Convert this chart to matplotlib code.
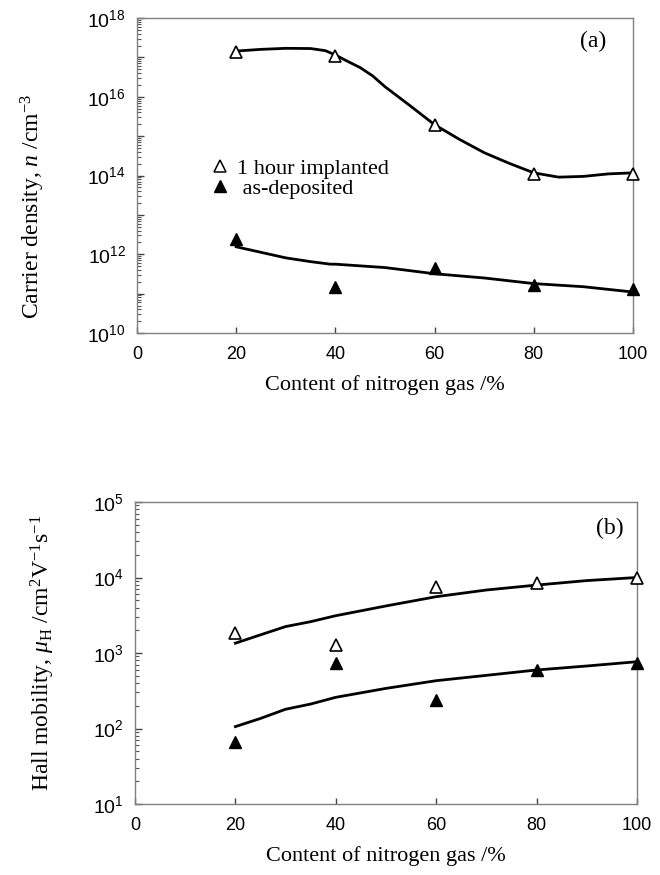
import matplotlib
matplotlib.use("Agg")
import matplotlib.pyplot as plt
from matplotlib.ticker import LogLocator, NullFormatter
from matplotlib.lines import Line2D

plt.rcParams['font.family'] = ['Liberation Serif', 'DejaVu Serif']
plt.rcParams['mathtext.fontset'] = 'custom'
plt.rcParams['mathtext.rm'] = 'Liberation Serif'
plt.rcParams['mathtext.it'] = 'Liberation Serif:italic'
plt.rcParams['mathtext.bf'] = 'Liberation Serif:bold'
plt.rcParams['mathtext.sf'] = 'Liberation Sans'
plt.rcParams['mathtext.fallback'] = 'stix'

# measured points
nitrogen = [20, 40, 60, 80, 100]
n_implanted = [1.4e17, 1.1e17, 1.95e15, 1.1e14, 1.1e14]
n_deposited = [2.5e12, 1.5e11, 4.4e11, 1.7e11, 1.3e11]
mu_implanted = [1860, 1280, 7570, 8550, 10000]
mu_deposited = [67, 745, 238, 596, 745]

# guide curves
fit_x_a = [20, 25, 30, 35, 38, 40, 42, 45, 47.5, 50, 55, 60, 65, 70, 75, 80, 85, 90, 95, 100]
fit_n_implanted = [1.45e17, 1.6e17, 1.7e17, 1.68e17, 1.48e17, 1.15e17, 8.5e16, 5.5e16,
                   3.4e16, 1.8e16, 6.0e15, 1.95e15, 8.3e14, 3.8e14, 2.05e14, 1.17e14,
                   9.1e13, 9.5e13, 1.1e14, 1.17e14]
fit_x_a2 = [20, 25, 30, 35, 39, 40, 50, 60, 70, 80, 90, 100]
fit_n_deposited = [1.55e12, 1.12e12, 8.1e11, 6.5e11, 5.6e11, 5.6e11, 4.6e11, 3.2e11,
                   2.5e11, 1.8e11, 1.5e11, 1.1e11]

fit_x_b = [20, 25, 30, 35, 40, 50, 60, 70, 80, 90, 100]
fit_mu_implanted = [1350, 1740, 2240, 2600, 3120, 4200, 5570, 6830, 7940, 9100, 10000]
fit_mu_deposited = [106, 136, 180, 211, 259, 340, 430, 506, 596, 673, 767]

xticks = [0, 20, 40, 60, 80, 100]
spine_col = '#808080'

fig = plt.figure(figsize=(6.6, 8.75), dpi=100)
ax1 = fig.add_axes([0.2076, 0.6194, 0.7515, 0.36])
ax2 = fig.add_axes([0.2045, 0.0811, 0.7606, 0.3452])


def style_axes(ax, yticks, ylabels):
    ax.set_yscale('log')
    ax.set_xlim(0, 100)
    ax.set_ylim(yticks[0], yticks[-1])
    ax.set_xticks(xticks)
    ax.set_xticklabels([str(t) for t in xticks], fontsize=13, family='Liberation Sans')
    ax.set_yticks(yticks, ylabels, fontsize=14)
    ax.yaxis.set_minor_locator(LogLocator(base=10, subs=range(2, 10), numticks=20))
    ax.yaxis.set_minor_formatter(NullFormatter())
    for s in ax.spines.values():
        s.set_color(spine_col)
        s.set_linewidth(1.0)
    ax.tick_params(axis='y', which='major', direction='in', length=5, width=1,
                   color='#444444', pad=8, right=False)
    ax.tick_params(axis='y', which='minor', direction='in', length=3, width=0.8,
                   color='#555555', right=False)
    ax.tick_params(axis='x', direction='in', length=4, width=1, color='#444444',
                   pad=9, top=False)


# (a) carrier density
ya = [10.0 ** e for e in range(10, 19)]
la = [f'$\\mathsf{{10^{{{e}}}}}$' if e % 2 == 0 else '' for e in range(10, 19)]
style_axes(ax1, ya, la)
ax1.plot(fit_x_a, fit_n_implanted, color='black', lw=2.0, zorder=2)
ax1.plot(fit_x_a2, fit_n_deposited, color='black', lw=2.0, zorder=2)
ax1.plot(nitrogen, n_implanted, '^', ms=9, mfc='white', mec='black', mew=1.2,
         clip_on=False, zorder=3)
ax1.plot(nitrogen, n_deposited, '^', ms=9, mfc='black', mec='black',
         clip_on=False, zorder=3)
ax1.text(0.92, 0.925, '(a)', transform=ax1.transAxes, fontsize=17,
         ha='center', va='center')

handles = [Line2D([], [], ls='none', marker='^', ms=8, mfc='white', mec='black', mew=1.1),
           Line2D([], [], ls='none', marker='^', ms=8, mfc='black', mec='black')]
ax1.legend(handles, ['1 hour implanted', ' as-deposited'], loc='center left',
           bbox_to_anchor=(0.1, 0.49), frameon=False, fontsize=16,
           handletextpad=0.15, labelspacing=0.0, handlelength=1.2)

ax1.set_xlabel('Content of nitrogen gas /%', fontsize=16, labelpad=9)
fig.text(33 / 660, 1 - 206 / 875, 'Carrier density, $n$ /cm$^{-3}$', rotation=90,
         ha='center', va='center', fontsize=17)

# (b) Hall mobility
yb = [10.0 ** e for e in range(1, 6)]
lb = [f'$\\mathsf{{10^{{{e}}}}}$' for e in range(1, 6)]
style_axes(ax2, yb, lb)
ax2.plot(fit_x_b, fit_mu_implanted, color='black', lw=2.0, zorder=2)
ax2.plot(fit_x_b, fit_mu_deposited, color='black', lw=2.0, zorder=2)
ax2.plot(nitrogen, mu_implanted, '^', ms=9, mfc='white', mec='black', mew=1.2,
         clip_on=False, zorder=3)
ax2.plot(nitrogen, mu_deposited, '^', ms=9, mfc='black', mec='black',
         clip_on=False, zorder=3)
ax2.text(0.945, 0.914, '(b)', transform=ax2.transAxes, fontsize=17,
         ha='center', va='center')

ax2.set_xlabel('Content of nitrogen gas /%', fontsize=16, labelpad=9)
fig.text(43 / 660, 1 - 653 / 875,
         r'Hall mobility, $\mu_{\rm H}$ /cm$^{2}$V$^{-1}$s$^{-1}$', rotation=90,
         ha='center', va='center', fontsize=17)

fig.savefig('out.png', dpi=100)
